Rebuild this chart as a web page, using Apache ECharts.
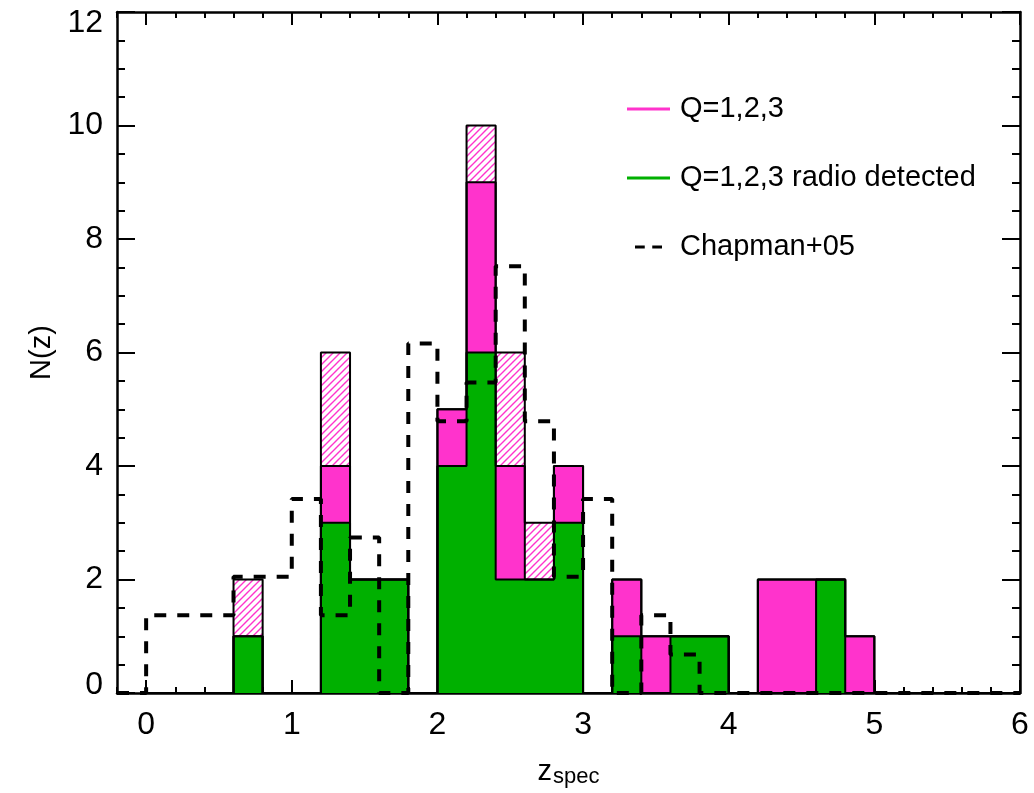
<!DOCTYPE html>
<html>
<head>
<meta charset="utf-8">
<title>N(z)</title>
<script src="https://cdn.jsdelivr.net/npm/echarts@6/dist/echarts.min.js"></script>
<style>
	html, body { margin: 0; padding: 0; background: #fff; }
	#chart1 { width: 1034px; height: 793px; }
</style>
</head>
<body>
<div id="chart1"></div>
<script>
// histogram bins, width 0.2 in z
var binEdges = [0.0, 0.2, 0.4, 0.6, 0.8, 1.0, 1.2, 1.4, 1.6, 1.8, 2.0, 2.2, 2.4, 2.6, 2.8, 3.0,
	3.2, 3.4, 3.6, 3.8, 4.0, 4.2, 4.4, 4.6, 4.8, 5.0, 5.2, 5.4, 5.6, 5.8, 6.0];
// Q=1,2,3 radio detected (green)
var radioCounts = [0, 0, 0, 1, 0, 0, 3, 2, 2, 0, 4, 6, 2, 2, 3, 0, 1, 0, 1, 1, 0, 0, 0, 2, 0, 0, 0, 0, 0, 0];
// Q=1,2,3 (solid pink top)
var qCounts = [0, 0, 0, 1, 0, 0, 4, 2, 2, 0, 5, 9, 4, 2, 4, 0, 2, 1, 1, 1, 0, 2, 2, 2, 1, 0, 0, 0, 0, 0];
// all sources (hatched top)
var allCounts = [0, 0, 0, 2, 0, 0, 6, 2, 2, 0, 5, 10, 6, 3, 4, 0, 2, 1, 1, 1, 0, 2, 2, 2, 1, 0, 0, 0, 0, 0];

// Chapman+05 (dashed), scaled
var chapmanEdges = [-0.2, 0.0, 0.2, 0.4, 0.6, 0.8, 1.0, 1.2, 1.4, 1.6, 1.8, 2.0, 2.2, 2.4, 2.6, 2.8, 3.0,
	3.2, 3.4, 3.6, 3.8, 4.0, 4.2, 4.4, 4.6, 4.8, 5.0, 5.2, 5.4, 5.6, 5.8, 6.0];
var chapmanCounts = [0, 1.37, 1.37, 1.37, 2.05, 2.05, 3.42, 1.37, 2.74, 0, 6.16, 4.79, 5.47, 7.52, 4.79, 2.05,
	3.42, 0, 1.37, 0.68, 0, 0, 0, 0, 0, 0, 0, 0, 0, 0, 0];

var xTickLabels = [0, 1, 2, 3, 4, 5, 6];
var xMinorTicks = [-0.2, 0.2, 0.4, 0.6, 0.8, 1.2, 1.4, 1.6, 1.8, 2.2, 2.4, 2.6, 2.8, 3.2, 3.4, 3.6, 3.8,
	4.2, 4.4, 4.6, 4.8, 5.2, 5.4, 5.6, 5.8];

var PINK = '#ff33cc';
var GREEN = '#00b000';
var FONT = 'Liberation Sans';

// pink hatch pattern
var hatch = document.createElement('canvas');
hatch.width = 7; hatch.height = 7;
var hc = hatch.getContext('2d');
hc.fillStyle = '#fff';
hc.fillRect(0, 0, 7, 7);
hc.strokeStyle = PINK;
hc.lineWidth = 1.4;
hc.beginPath();
hc.moveTo(-1, 8); hc.lineTo(8, -1);
hc.moveTo(-1, 1); hc.lineTo(1, -1);
hc.moveTo(6, 8); hc.lineTo(8, 6);
hc.stroke();
var hatchFill = { image: hatch, repeat: 'repeat' };

var pinkData = [], greenData = [];
for (var i = 0; i < radioCounts.length; i++) {
	if (radioCounts[i] > 0) greenData.push([binEdges[i], binEdges[i + 1], 0, radioCounts[i], 0]);
	if (qCounts[i] > radioCounts[i]) pinkData.push([binEdges[i], binEdges[i + 1], radioCounts[i], qCounts[i], 0]);
	if (allCounts[i] > qCounts[i]) pinkData.push([binEdges[i], binEdges[i + 1], qCounts[i], allCounts[i], 1]);
}

function stepPoints(edges, counts) {
	var pts = [];
	for (var k = 0; k < counts.length; k++) pts.push([edges[k], counts[k]]);
	pts.push([edges[edges.length - 1], 0]);
	return pts;
}

function renderBin(params, api) {
	var p0 = api.coord([api.value(0), api.value(3)]);
	var p1 = api.coord([api.value(1), api.value(2)]);
	var x0 = Math.round(p0[0]), x1 = Math.round(p1[0]);
	var y0 = Math.round(p0[1]), y1 = Math.round(p1[1]);
	return {
		type: 'rect',
		shape: { x: x0, y: y0, width: x1 - x0, height: y1 - y0 },
		style: { fill: api.value(4) ? hatchFill : params.seriesIndex === 0 ? PINK : GREEN }
	};
}

function outline(name, pts) {
	return {
		name: name, type: 'line', step: 'end', data: pts, symbol: 'none', z: 3,
		lineStyle: { color: '#000', width: 2 }, silent: true
	};
}

var lblStyle = { fontFamily: FONT, fontSize: 32, color: '#000' };
var frame = { onZero: false, lineStyle: { color: '#000', width: 2.5 } };

var myChart = echarts.init(document.getElementById('chart1'));
var option = {
	animation: false,
	backgroundColor: '#fff',
	grid: { left: 117, right: 14, top: 12, bottom: 100 },
	legend: {
		orient: 'vertical', left: 627, top: 94, padding: 0,
		itemWidth: 43, itemHeight: 3, itemGap: 39, selectedMode: false,
		textStyle: { fontFamily: FONT, fontSize: 29, lineHeight: 30, color: '#000', padding: [0, 0, 0, 5] },
		data: [
			{ name: 'Q=1,2,3', icon: 'rect', itemStyle: { color: PINK } },
			{ name: 'Q=1,2,3 radio detected', icon: 'rect', itemStyle: { color: GREEN } },
			{ name: 'Chapman+05', icon: 'path://M0,0H13V4H0Z M23,0H36V4H23Z', itemStyle: { color: '#000' } }
		]
	},
	xAxis: [
		{
			type: 'value', min: -0.2, max: 6, position: 'bottom',
			axisLine: frame,
			axisTick: { inside: true, length: 13, customValues: xTickLabels, lineStyle: { color: '#000', width: 2 } },
			axisLabel: Object.assign({ customValues: xTickLabels, margin: 16 }, lblStyle),
			splitLine: { show: false },
			name: '{a|z}{b|spec}', nameLocation: 'middle', nameGap: 58,
			nameTextStyle: {
				rich: {
					a: { fontFamily: FONT, fontSize: 29, color: '#000', lineHeight: 30, verticalAlign: 'top' },
					b: { fontFamily: FONT, fontSize: 22, color: '#000', lineHeight: 22, padding: [20, 0, 0, 1], verticalAlign: 'bottom' }
				}
			}
		},
		{
			type: 'value', min: -0.2, max: 6, position: 'bottom',
			axisLine: { show: false, onZero: false },
			axisTick: { inside: true, length: 6, customValues: xMinorTicks, lineStyle: { color: '#000', width: 2 } },
			axisLabel: { show: false }, splitLine: { show: false }
		},
		{
			type: 'value', min: -0.2, max: 6, position: 'top',
			axisLine: frame,
			axisTick: { inside: true, length: 13, customValues: xTickLabels, lineStyle: { color: '#000', width: 2 } },
			axisLabel: { show: false }, splitLine: { show: false }
		},
		{
			type: 'value', min: -0.2, max: 6, position: 'top',
			axisLine: { show: false, onZero: false },
			axisTick: { inside: true, length: 6, customValues: xMinorTicks, lineStyle: { color: '#000', width: 2 } },
			axisLabel: { show: false }, splitLine: { show: false }
		}
	],
	yAxis: [
		{
			type: 'value', min: 0, max: 12, interval: 2, position: 'left',
			axisLine: { show: true, onZero: false, lineStyle: { color: '#000', width: 2.5 } },
			axisTick: { show: true, inside: true, length: 18, lineStyle: { color: '#000', width: 2 } },
			minorTick: { show: true, splitNumber: 4, length: 8, lineStyle: { color: '#000', width: 2 } },
			axisLabel: Object.assign({
				margin: 14,
				formatter: function (v) {
					if (v === 0) return '{lo|0}';
					if (v === 12) return '{hi|12}';
					return String(v);
				},
				rich: {
					lo: { fontFamily: FONT, fontSize: 32, color: '#000', padding: [0, 0, 16, 0] },
					hi: { fontFamily: FONT, fontSize: 32, color: '#000', padding: [22, 0, 0, 0] }
				}
			}, lblStyle),
			splitLine: { show: false },
			name: 'N(z)', nameLocation: 'middle', nameGap: 60,
			nameTextStyle: { fontFamily: FONT, fontSize: 29, color: '#000' }
		},
		{
			type: 'value', min: 0, max: 12, interval: 2, position: 'right',
			axisLine: { show: true, onZero: false, lineStyle: { color: '#000', width: 2.5 } },
			axisTick: { show: true, inside: true, length: 18, lineStyle: { color: '#000', width: 2 } },
			minorTick: { show: true, splitNumber: 4, length: 8, lineStyle: { color: '#000', width: 2 } },
			axisLabel: { show: false }, splitLine: { show: false }
		}
	],
	series: [
		{
			name: 'Q=1,2,3', type: 'custom', renderItem: renderBin, data: pinkData, z: 2,
			encode: { x: [0, 1], y: [2, 3] }, itemStyle: { color: PINK }
		},
		{
			name: 'Q=1,2,3 radio detected', type: 'custom', renderItem: renderBin, data: greenData, z: 2,
			encode: { x: [0, 1], y: [2, 3] }, itemStyle: { color: GREEN }
		},
		outline('all outline', stepPoints(binEdges, allCounts)),
		outline('q outline', stepPoints(binEdges, qCounts)),
		outline('radio outline', stepPoints(binEdges, radioCounts)),
		{
			name: 'Chapman+05', type: 'line', step: 'end', symbol: 'none', z: 4, silent: true,
			data: stepPoints(chapmanEdges, chapmanCounts),
			itemStyle: { color: '#000' },
			lineStyle: { color: '#000', width: 4, type: [12, 11], cap: 'butt' }
		}
	]
};
myChart.setOption(option);
</script>
</body>
</html>
